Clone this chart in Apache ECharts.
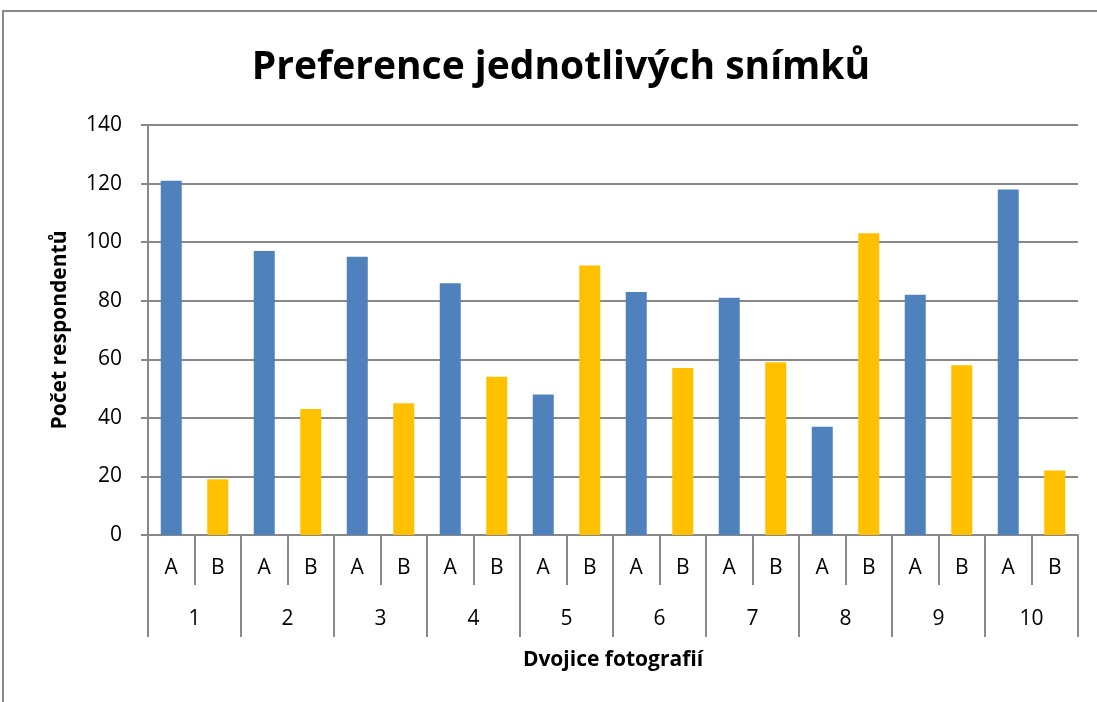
<!DOCTYPE html>
<html>
<head>
<meta charset="utf-8">
<script src="https://cdn.jsdelivr.net/npm/echarts@6/dist/echarts.min.js"></script>
<style>
    html, body { margin: 0; padding: 0; background: #fff; }
    #chart { width: 1097px; height: 702px; }
</style>
</head>
<body>
<div id="chart"></div>
<script>
// 数据
var pairs = ['1', '2', '3', '4', '5', '6', '7', '8', '9', '10'];
var variants = ['A', 'B'];
var valuesA = [121, 97, 95, 86, 48, 83, 81, 37, 82, 118];
var valuesB = [19, 43, 45, 54, 92, 57, 59, 103, 58, 22];
var yTicks = [0, 20, 40, 60, 80, 100, 120, 140];

var colorA = '#4F81BD';
var colorB = '#FFC000';
var font = 'Open Sans, Noto Sans, sans-serif';

// 拼出 A/B 子类目和对应数值
var subCats = [];
var values = [];
for (var i = 0; i < pairs.length; i++) {
    subCats.push(variants[0]);
    values.push(valuesA[i]);
    subCats.push(variants[1]);
    values.push(valuesB[i]);
}

var myBar = echarts.init(document.getElementById('chart'));

var option = {
    backgroundColor: '#fff',
    animation: false,
    title: {
        text: 'Preference jednotlivých snímků',
        left: 556,
        textAlign: 'center',
        top: 43,
        textStyle: {
            fontFamily: font,
            fontSize: 39,
            fontWeight: 'bold',
            color: '#000'
        }
    },
    graphic: [{
        type: 'polyline',
        shape: { points: [[3, 702], [3, 11], [1097, 11]] },
        style: { stroke: '#888', lineWidth: 2, fill: null }
    }],
    grid: {
        left: 148,
        right: 19,
        top: 125,
        bottom: 167
    },
    xAxis: [{
        type: 'category',
        data: subCats,
        position: 'bottom',
        axisLine: { show: true, lineStyle: { color: '#888', width: 2 } },
        axisTick: {
            show: true,
            interval: 0,
            length: 50,
            lineStyle: { color: '#888', width: 2 }
        },
        axisLabel: {
            interval: 0,
            margin: 23,
            fontFamily: font,
            fontSize: 21,
            color: '#000'
        }
    }, {
        type: 'category',
        data: pairs,
        position: 'bottom',
        name: 'Dvojice fotografií',
        nameLocation: 'middle',
        nameGap: 115,
        nameTextStyle: {
            fontFamily: font,
            fontSize: 21,
            fontWeight: 'bold',
            color: '#000'
        },
        axisLine: { show: false },
        axisTick: {
            show: true,
            interval: 0,
            length: 102,
            lineStyle: { color: '#888', width: 2 }
        },
        axisLabel: {
            interval: 0,
            margin: 74,
            fontFamily: font,
            fontSize: 21,
            color: '#000'
        }
    }],
    yAxis: {
        type: 'value',
        min: yTicks[0],
        max: yTicks[yTicks.length - 1],
        interval: 20,
        name: 'Počet respondentů',
        nameLocation: 'middle',
        nameGap: 77,
        nameTextStyle: {
            fontFamily: font,
            fontSize: 21,
            fontWeight: 'bold',
            color: '#000'
        },
        axisLine: { show: true, lineStyle: { color: '#888', width: 2 } },
        axisTick: { show: true, length: 7, lineStyle: { color: '#888', width: 2 } },
        axisLabel: {
            margin: 26,
            fontFamily: font,
            fontSize: 21,
            color: '#000'
        },
        splitLine: { lineStyle: { color: '#888', width: 2 } }
    },
    series: [{
        name: 'Počet',
        type: 'bar',
        xAxisIndex: 0,
        barWidth: 21,
        itemStyle: {
            color: function (p) {
                return p.dataIndex % 2 == 0 ? colorA : colorB;
            }
        },
        data: values
    }]
};

myBar.setOption(option);
</script>
</body>
</html>
